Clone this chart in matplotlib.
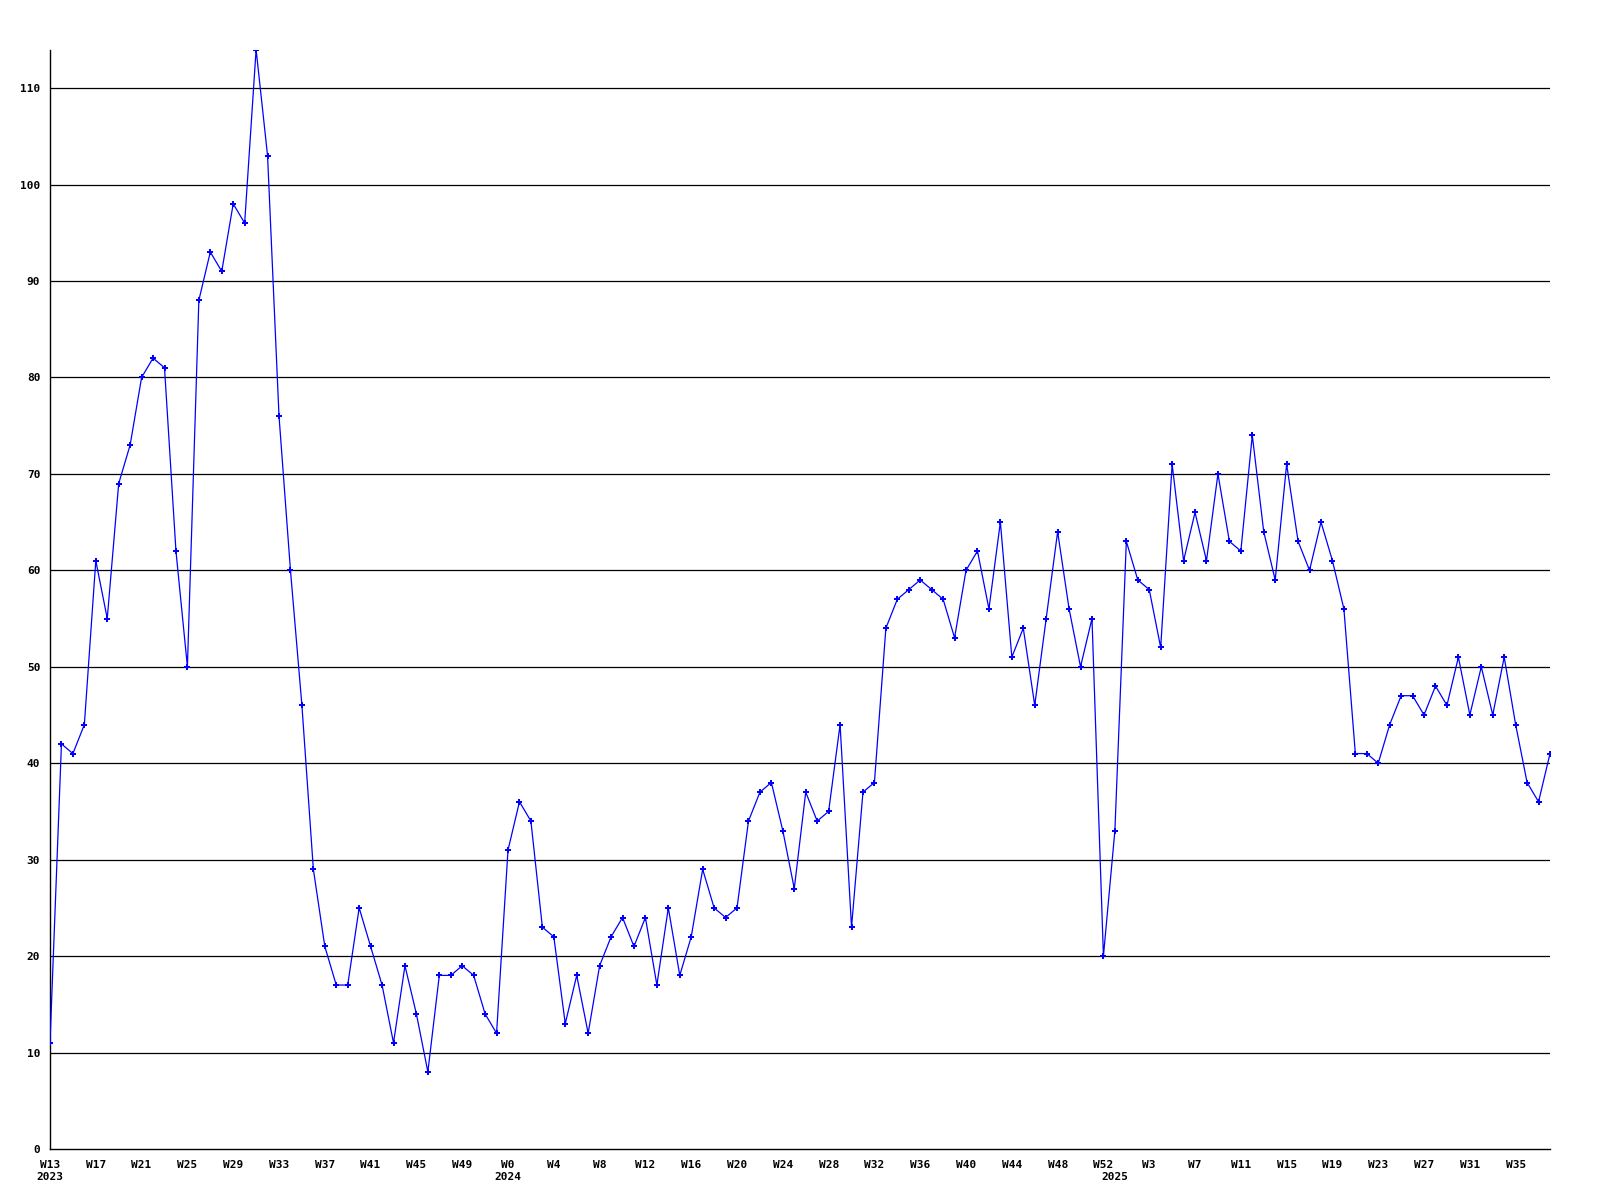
import matplotlib
matplotlib.use("Agg")
import matplotlib.pyplot as plt
import matplotlib.transforms as mtransforms

# Weekly values: 2023 W13..W52, 2024 W0..W52, 2025 W0..W38
values_2023 = [11, 42, 41, 44, 61, 55, 69, 73, 80, 82, 81, 62, 50, 88, 93, 91,
               98, 96, 114, 103, 76, 60, 46, 29, 21, 17, 17, 25, 21, 17, 11, 19,
               14, 8, 18, 18, 19, 18, 14, 12]
values_2024 = [31, 36, 34, 23, 22, 13, 18, 12, 19, 22, 24, 21, 24, 17, 25, 18,
               22, 29, 25, 24, 25, 34, 37, 38, 33, 27, 37, 34, 35, 44, 23, 37,
               38, 54, 57, 58, 59, 58, 57, 53, 60, 62, 56, 65, 51, 54, 46, 55,
               64, 56, 50, 55, 20]
values_2025 = [33, 63, 59, 58, 52, 71, 61, 66, 61, 70, 63, 62, 74, 64, 59, 71,
               63, 60, 65, 61, 56, 41, 41, 40, 44, 47, 47, 45, 48, 46, 51, 45,
               50, 45, 51, 44, 38, 36, 41]

weeks_2023 = list(range(13, 53))
weeks_2024 = list(range(0, 53))
weeks_2025 = list(range(0, 39))

values = values_2023 + values_2024 + values_2025
week_labels = ([f"W{w}" for w in weeks_2023] + [f"W{w}" for w in weeks_2024]
               + [f"W{w}" for w in weeks_2025])
year_labels = {0: "2023", len(values_2023): "2024",
               len(values_2023) + len(values_2024): "2025"}
y_ticks = [0, 10, 20, 30, 40, 50, 60, 70, 80, 90, 100, 110]

FONT = dict(family="DejaVu Sans Mono", fontweight="bold", fontsize=8)

fig = plt.figure(figsize=(16, 12), dpi=100)
W, H = 1600, 1200
left, right = 50 / W, 1550 / W
bottom = 51 / H
top = 1 - 49.5 / H
ax = fig.add_axes([left, bottom, right - left, top - bottom])

x = list(range(len(values)))
ax.plot(x, values, color="#0000ff", lw=0.9, marker="P", ms=5,
        mfc="#0000ff", mec="#0000ff", mew=0, zorder=3)

ax.set_xlim(0, len(values) - 1)
ax.set_ylim(0, 114)

for yv in y_ticks[1:]:
    ax.axhline(yv, color="black", lw=0.9, zorder=1)

ax.spines["top"].set_visible(False)
ax.spines["right"].set_visible(False)
ax.spines["left"].set_linewidth(1.0)
ax.spines["bottom"].set_linewidth(1.0)

ax.set_yticks(y_ticks)
ax.set_yticklabels([str(v) for v in y_ticks], **FONT)
xt = x[::4]
ax.set_xticks(xt)
ax.set_xticklabels([week_labels[i] for i in xt], **FONT)
ax.tick_params(axis="both", length=0)
ax.tick_params(axis="y", pad=7)
ax.tick_params(axis="x", pad=8)

trans = mtransforms.blended_transform_factory(ax.transData, fig.transFigure)
for i, lab in year_labels.items():
    ax.text(i, 1 - 1177 / H, lab, transform=trans, ha="center", va="center",
            **FONT)

fig.savefig("out.png", dpi=100, facecolor="white")
